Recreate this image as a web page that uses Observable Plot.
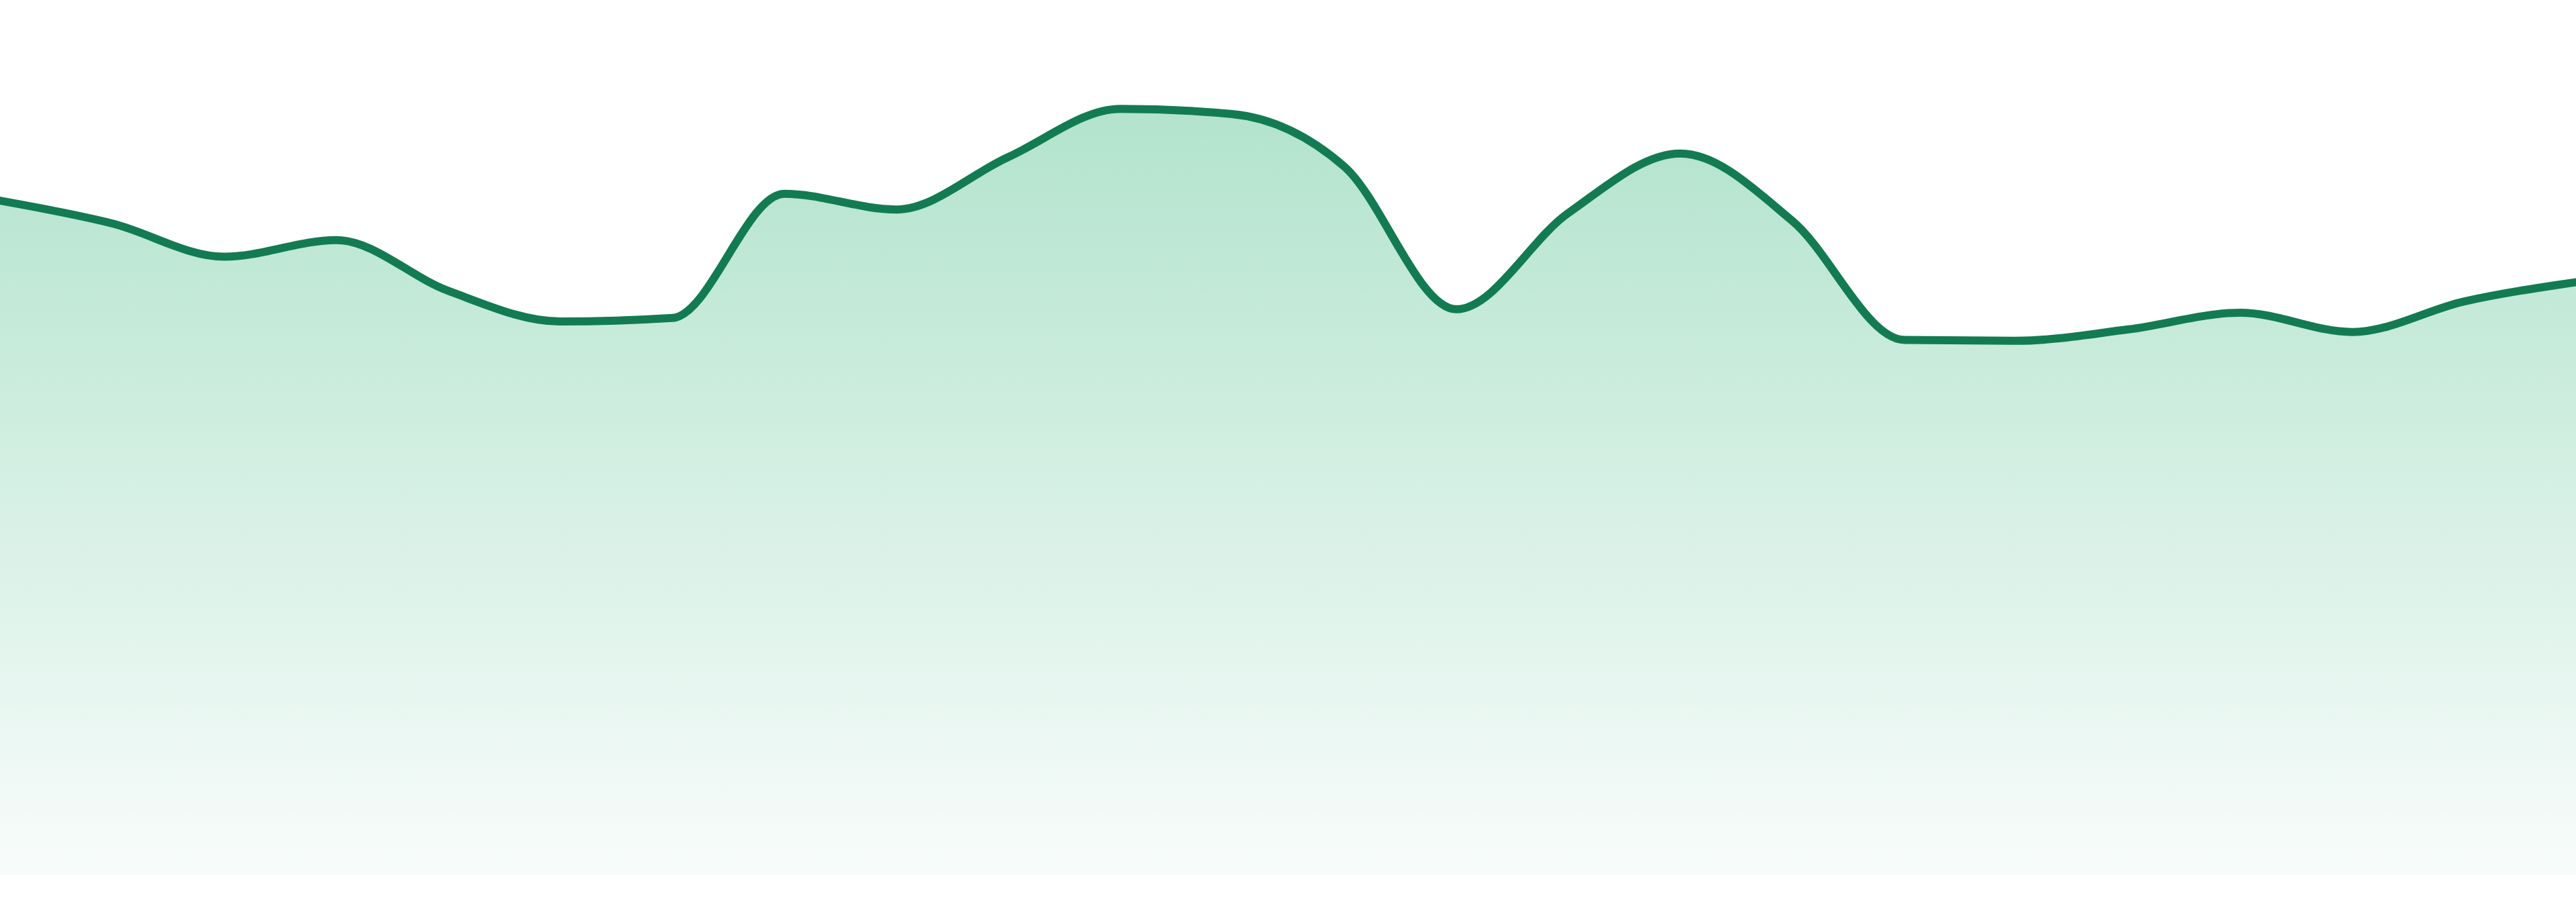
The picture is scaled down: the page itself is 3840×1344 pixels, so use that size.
<!DOCTYPE html>
<html>
<head>
<meta charset="utf-8">
<script src="https://cdn.jsdelivr.net/npm/d3@7"></script>
<script src="https://cdn.jsdelivr.net/npm/@observablehq/plot@0.6"></script>
<style>
  html, body { margin: 0; padding: 0; background: #ffffff; overflow: hidden; }
  #chart svg { display: block; }
</style>
</head>
<body>
<div id="chart"></div>
<script>
// Categories (24 evenly spaced steps) and series values
const steps = [0, 1, 2, 3, 4, 5, 6, 7, 8, 9, 10, 11, 12, 13, 14, 15, 16, 17, 18, 19, 20, 21, 22, 23];
const values = [77.1, 74.5, 70.7, 72.6, 66.8, 63.3, 63.7, 77.9, 76.1, 82.1, 87.6, 87.0,
                81.0, 64.7, 75.7, 82.5, 74.8, 61.2, 61.1, 62.4, 64.3, 62.1, 65.6, 67.8];

const data = steps.map((s, i) => ({step: s, value: values[i]}));

const W = 3840, H = 1344;
const svgNS = "http://www.w3.org/2000/svg";

function gradientDefs() {
  const defs = document.createElementNS(svgNS, "defs");
  const lg = document.createElementNS(svgNS, "linearGradient");
  lg.setAttribute("id", "areaFade");
  lg.setAttribute("x1", "0"); lg.setAttribute("y1", "0");
  lg.setAttribute("x2", "0"); lg.setAttribute("y2", "1");
  const stops = [["0%", "#b2e3cd"], ["100%", "#f8fcfb"]];
  for (const [o, c] of stops) {
    const st = document.createElementNS(svgNS, "stop");
    st.setAttribute("offset", o);
    st.setAttribute("stop-color", c);
    lg.appendChild(st);
  }
  defs.appendChild(lg);
  return defs;
}

const chart = Plot.plot({
  width: W,
  height: H,
  marginTop: 0,
  marginRight: 0,
  marginBottom: 40,
  marginLeft: 0,
  x: {domain: [0, 23], axis: null},
  y: {domain: [0, 100], axis: null},
  marks: [
    gradientDefs,
    Plot.areaY(data, {x: "step", y: "value", curve: "monotone-x", fill: "url(#areaFade)"}),
    Plot.lineY(data, {x: "step", y: "value", curve: "monotone-x", stroke: "#137b52", strokeWidth: 12})
  ]
});

document.getElementById("chart").appendChild(chart);
</script>
</body>
</html>
